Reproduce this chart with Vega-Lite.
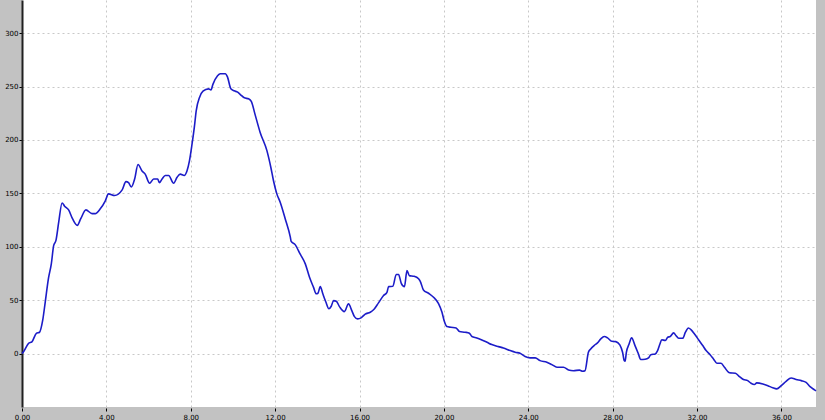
{
  "$schema": "https://vega.github.io/schema/vega-lite/v6.json",
  "width": 794,
  "height": 407,
  "autosize": {"type": "none"},
  "padding": {"left": 22, "top": 0, "right": 9, "bottom": 13},
  "background": "#c2c2c2",
  "view": {"fill": "#ffffff", "stroke": null},
  "config": {
    "axis": {
      "labelFont": "DejaVu Sans",
      "labelFontSize": 7,
      "labelColor": "#000000",
      "gridColor": "#c8c8c8",
      "gridDash": [2, 3],
      "gridWidth": 1,
      "tickColor": "#000000",
      "tickSize": 3,
      "tickWidth": 1,
      "labelPadding": 1
    }
  },
  "data": {
    "values": [
      {"t": 0.0, "v": 0}, {"t": 0.08, "v": 2}, {"t": 0.31, "v": 9.6}, {"t": 0.47, "v": 11},
      {"t": 0.68, "v": 19}, {"t": 0.83, "v": 20}, {"t": 0.98, "v": 31}, {"t": 1.10, "v": 48},
      {"t": 1.26, "v": 71}, {"t": 1.39, "v": 84}, {"t": 1.50, "v": 101}, {"t": 1.61, "v": 106},
      {"t": 1.74, "v": 123}, {"t": 1.90, "v": 141}, {"t": 2.02, "v": 138}, {"t": 2.21, "v": 134.5},
      {"t": 2.40, "v": 126}, {"t": 2.62, "v": 120}, {"t": 2.78, "v": 126}, {"t": 3.03, "v": 134.5},
      {"t": 3.32, "v": 131}, {"t": 3.47, "v": 131}, {"t": 3.71, "v": 135.5}, {"t": 3.95, "v": 143},
      {"t": 4.10, "v": 149.5}, {"t": 4.39, "v": 148}, {"t": 4.74, "v": 153}, {"t": 4.93, "v": 161},
      {"t": 5.05, "v": 160}, {"t": 5.18, "v": 156}, {"t": 5.34, "v": 163.5}, {"t": 5.50, "v": 177},
      {"t": 5.69, "v": 171}, {"t": 5.84, "v": 168}, {"t": 6.05, "v": 159.5}, {"t": 6.24, "v": 163.5},
      {"t": 6.43, "v": 163.5}, {"t": 6.51, "v": 160}, {"t": 6.64, "v": 163.5}, {"t": 6.79, "v": 166.7},
      {"t": 6.95, "v": 166.7}, {"t": 7.19, "v": 159.5}, {"t": 7.35, "v": 165}, {"t": 7.50, "v": 168},
      {"t": 7.69, "v": 166.7}, {"t": 7.82, "v": 171}, {"t": 7.94, "v": 180.7}, {"t": 8.06, "v": 196},
      {"t": 8.17, "v": 212}, {"t": 8.26, "v": 227.5}, {"t": 8.42, "v": 240}, {"t": 8.58, "v": 245.6},
      {"t": 8.84, "v": 247.8}, {"t": 8.96, "v": 246.8}, {"t": 9.05, "v": 252}, {"t": 9.27, "v": 260},
      {"t": 9.40, "v": 262}, {"t": 9.64, "v": 262}, {"t": 9.74, "v": 259}, {"t": 9.90, "v": 248},
      {"t": 10.06, "v": 246}, {"t": 10.22, "v": 244.7}, {"t": 10.35, "v": 242.5}, {"t": 10.54, "v": 239.4},
      {"t": 10.74, "v": 238.5}, {"t": 10.87, "v": 236}, {"t": 11.06, "v": 223}, {"t": 11.29, "v": 207},
      {"t": 11.61, "v": 190}, {"t": 11.80, "v": 174}, {"t": 11.92, "v": 162}, {"t": 12.08, "v": 149.5},
      {"t": 12.24, "v": 141.7}, {"t": 12.48, "v": 126}, {"t": 12.72, "v": 109}, {"t": 12.76, "v": 105},
      {"t": 12.95, "v": 102}, {"t": 13.19, "v": 93}, {"t": 13.43, "v": 84}, {"t": 13.63, "v": 71.4},
      {"t": 13.82, "v": 62}, {"t": 13.95, "v": 56}, {"t": 14.03, "v": 56.5}, {"t": 14.14, "v": 62.7},
      {"t": 14.26, "v": 56}, {"t": 14.41, "v": 48}, {"t": 14.55, "v": 42}, {"t": 14.66, "v": 44.3},
      {"t": 14.77, "v": 49.6}, {"t": 14.90, "v": 49}, {"t": 15.05, "v": 44}, {"t": 15.28, "v": 39.3},
      {"t": 15.48, "v": 46.5}, {"t": 15.64, "v": 40}, {"t": 15.76, "v": 34.6}, {"t": 15.91, "v": 32.5},
      {"t": 16.07, "v": 33.4}, {"t": 16.27, "v": 37}, {"t": 16.51, "v": 38.7}, {"t": 16.70, "v": 41.8},
      {"t": 16.90, "v": 47.5}, {"t": 17.14, "v": 54.3}, {"t": 17.30, "v": 57.4}, {"t": 17.38, "v": 62.7},
      {"t": 17.58, "v": 63}, {"t": 17.74, "v": 74}, {"t": 17.85, "v": 74}, {"t": 17.98, "v": 65.8},
      {"t": 18.13, "v": 62.7}, {"t": 18.25, "v": 77.7}, {"t": 18.36, "v": 73}, {"t": 18.59, "v": 72.4},
      {"t": 18.80, "v": 70}, {"t": 18.88, "v": 67.7}, {"t": 19.03, "v": 59.6}, {"t": 19.27, "v": 56.5},
      {"t": 19.51, "v": 52.7}, {"t": 19.74, "v": 47}, {"t": 19.91, "v": 38.7}, {"t": 20.02, "v": 30.2},
      {"t": 20.14, "v": 25.3}, {"t": 20.33, "v": 24.6}, {"t": 20.58, "v": 24}, {"t": 20.74, "v": 20.6},
      {"t": 21.01, "v": 20}, {"t": 21.21, "v": 19}, {"t": 21.33, "v": 16}, {"t": 21.56, "v": 14.7},
      {"t": 21.80, "v": 12.8}, {"t": 22.04, "v": 10.6}, {"t": 22.27, "v": 8.4}, {"t": 22.59, "v": 6.5},
      {"t": 22.82, "v": 5.3}, {"t": 23.14, "v": 2.8}, {"t": 23.38, "v": 1.2}, {"t": 23.61, "v": 0.3},
      {"t": 23.85, "v": -2.8}, {"t": 24.09, "v": -4}, {"t": 24.33, "v": -4}, {"t": 24.56, "v": -6.6},
      {"t": 24.88, "v": -8}, {"t": 25.12, "v": -10.3}, {"t": 25.36, "v": -12.8}, {"t": 25.67, "v": -12.8},
      {"t": 25.91, "v": -15.3}, {"t": 26.14, "v": -16}, {"t": 26.43, "v": -15.5}, {"t": 26.58, "v": -16.5},
      {"t": 26.69, "v": -16}, {"t": 26.85, "v": 1.2}, {"t": 26.96, "v": 4.4}, {"t": 27.12, "v": 7.5},
      {"t": 27.28, "v": 10}, {"t": 27.44, "v": 13.8}, {"t": 27.60, "v": 16}, {"t": 27.76, "v": 14.7},
      {"t": 27.96, "v": 11.5}, {"t": 28.15, "v": 11.2}, {"t": 28.34, "v": 8.1}, {"t": 28.47, "v": 1.2},
      {"t": 28.55, "v": -6.6}, {"t": 28.59, "v": -7.2}, {"t": 28.65, "v": 1.2}, {"t": 28.78, "v": 9},
      {"t": 28.90, "v": 14.7}, {"t": 29.06, "v": 7.5}, {"t": 29.21, "v": 0.3}, {"t": 29.33, "v": -5.6},
      {"t": 29.54, "v": -5.3}, {"t": 29.70, "v": -4}, {"t": 29.81, "v": -1}, {"t": 30.02, "v": -0.3},
      {"t": 30.13, "v": 2.8}, {"t": 30.24, "v": 9}, {"t": 30.33, "v": 13}, {"t": 30.50, "v": 12.2},
      {"t": 30.61, "v": 15.3}, {"t": 30.73, "v": 16}, {"t": 30.89, "v": 19.4}, {"t": 31.00, "v": 16.9},
      {"t": 31.13, "v": 14.3}, {"t": 31.32, "v": 14.3}, {"t": 31.45, "v": 20}, {"t": 31.59, "v": 24},
      {"t": 31.71, "v": 22.5}, {"t": 31.88, "v": 18.4}, {"t": 32.08, "v": 12.8}, {"t": 32.27, "v": 7.5},
      {"t": 32.43, "v": 2.8}, {"t": 32.62, "v": -1}, {"t": 32.78, "v": -5}, {"t": 32.94, "v": -9},
      {"t": 33.14, "v": -9}, {"t": 33.30, "v": -12.8}, {"t": 33.54, "v": -18}, {"t": 33.82, "v": -18.4},
      {"t": 34.01, "v": -21.5}, {"t": 34.20, "v": -24.3}, {"t": 34.40, "v": -25.3}, {"t": 34.56, "v": -27.8},
      {"t": 34.72, "v": -29}, {"t": 34.83, "v": -27.4}, {"t": 35.12, "v": -28.4}, {"t": 35.36, "v": -30},
      {"t": 35.59, "v": -32}, {"t": 35.78, "v": -33}, {"t": 35.99, "v": -30}, {"t": 36.22, "v": -26},
      {"t": 36.46, "v": -22.8}, {"t": 36.70, "v": -24.3}, {"t": 36.94, "v": -25.3}, {"t": 37.17, "v": -26.9},
      {"t": 37.36, "v": -30.9}, {"t": 37.57, "v": -34}, {"t": 37.64, "v": -35}
    ]
  },
  "mark": {"type": "line", "color": "#1c1cc8", "strokeWidth": 1.6, "interpolate": "monotone"},
  "encoding": {
    "x": {
      "field": "t",
      "type": "quantitative",
      "scale": {"domain": [0, 37.64], "nice": false, "zero": false},
      "axis": {
        "title": null,
        "values": [0, 4, 8, 12, 16, 20, 24, 28, 32, 36],
        "labelExpr": "replace(format(datum.value, '.2f'), '.', ',')",
        "domain": false,
        "labelFlush": false,
        "labelPadding": 2,
        "offset": 1
      }
    },
    "y": {
      "field": "v",
      "type": "quantitative",
      "scale": {"domain": [-50, 331], "nice": false, "zero": false},
      "axis": {
        "title": null,
        "values": [0, 50, 100, 150, 200, 250, 300],
        "domain": true,
        "domainColor": "#202020",
        "domainWidth": 2,
        "labelPadding": 1
      }
    }
  }
}
